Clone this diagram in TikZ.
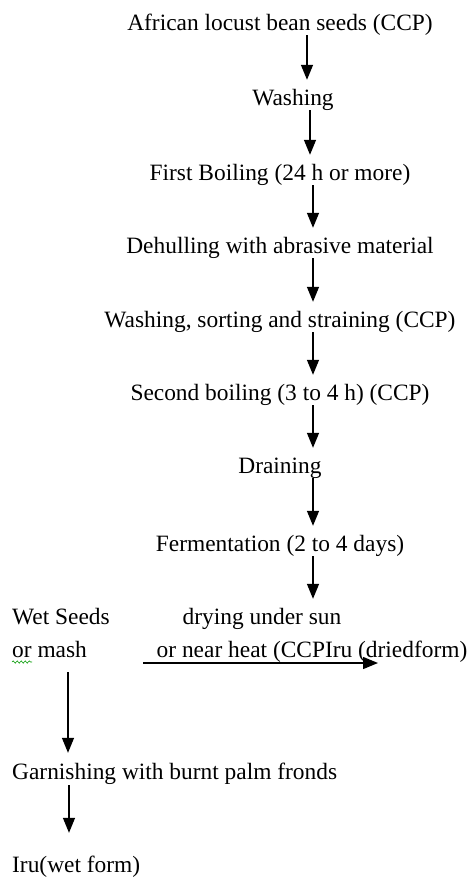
\documentclass[tikz,border=0pt]{standalone}
\usepackage{fontspec}
\setmainfont{Liberation Serif}
\usetikzlibrary{arrows.meta,decorations.pathmorphing}
\begin{document}
\begin{tikzpicture}[x=1pt,y=-1pt,
  lbl/.style={inner sep=0pt,text height=16pt,text depth=5pt,font=\fontsize{23.4}{28}\selectfont},
  arr/.style={line width=1.4pt,-{Triangle[width=12pt,length=15pt]},shorten >=9pt}]
\useasboundingbox (0,0) rectangle (469,879);
\node[lbl,anchor=base] (n1) at (280,30) {African locust bean seeds (CCP)};
\node[lbl,anchor=base] (n2) at (293,105) {Washing};
\node[lbl,anchor=base] (n3) at (280,180) {First Boiling (24 h or more)};
\node[lbl,anchor=base] (n4) at (280,253) {Dehulling with abrasive material};
\node[lbl,anchor=base] (n5) at (280,327) {Washing, sorting and straining (CCP)};
\node[lbl,anchor=base] (n6) at (280,400) {Second boiling (3 to 4 h) (CCP)};
\node[lbl,anchor=base] (n7) at (280,473) {Draining};
\node[lbl,anchor=base] (n8) at (280,551) {Fermentation (2 to 4 days)};
\node[lbl,anchor=base] (n9) at (262,624) {drying under sun};
\node[lbl,anchor=base] (n10) at (312,657) {or near heat (CCPIru (driedform)};
\node[lbl,anchor=base west] (w1) at (12,624) {Wet Seeds};
\node[lbl,anchor=base west] (w2) at (12,657) {or mash};
\node[lbl,anchor=base west] (g) at (12,779) {Garnishing with burnt palm fronds};
\node[lbl,anchor=base west] (iru) at (12,872) {Iru(wet form)};
\draw[arr] ([xshift=27pt]n1.south) -- ([xshift=14pt]n2.north);
\draw[arr] ([xshift=17pt]n2.south) -- ([xshift=30pt]n3.north);
\draw[arr] ([xshift=33pt]n3.south) -- ([xshift=33pt]n4.north);
\draw[arr] ([xshift=33pt]n4.south) -- ([xshift=33pt]n5.north);
\draw[arr] ([xshift=33pt]n5.south) -- ([xshift=33pt]n6.north);
\draw[arr] ([xshift=33pt]n6.south) -- ([xshift=33pt]n7.north);
\draw[arr] ([xshift=33pt]n7.south) -- ([xshift=33pt]n8.north);
\draw[arr] ([xshift=33pt]n8.south) -- ([xshift=51pt]n9.north);
\draw[arr,shorten <=10pt,shorten >=10pt] (w2.south -| 68,0) -- (g.north -| 68,0);
\draw[arr,shorten <=1pt,shorten >=23pt] (g.south -| 69,0) -- (iru.north -| 69,0);
\coordinate (h1) at (143,663);
\coordinate (h2) at (378,663);
\draw[arr,shorten >=0pt] (h1) -- (h2);
\draw[green!60!black,line width=0.6pt,decorate,decoration={snake,amplitude=1.1pt,segment length=4pt}] (12,662) -- (32,662);
\end{tikzpicture}
\end{document}
